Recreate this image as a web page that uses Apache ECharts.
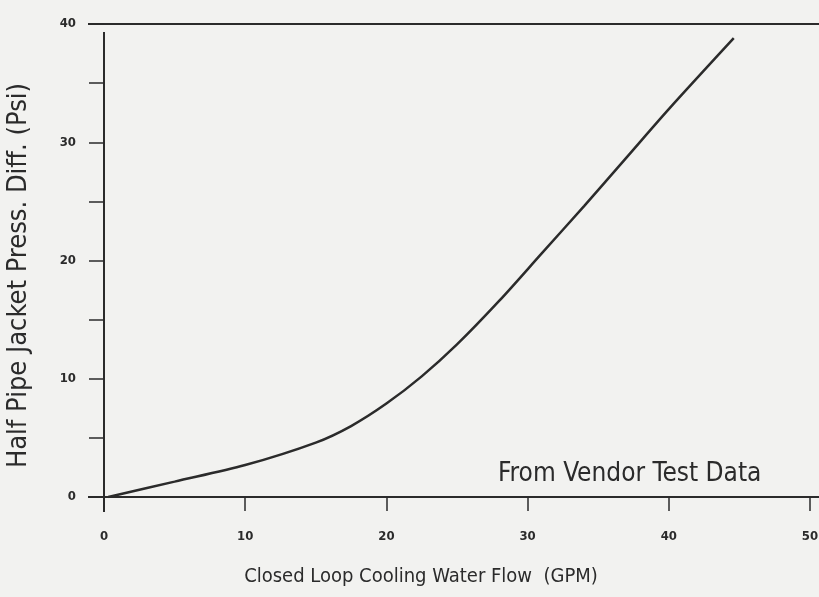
<!DOCTYPE html>
<html>
<head>
<meta charset="utf-8">
<script src="https://cdn.jsdelivr.net/npm/echarts@6/dist/echarts.min.js"></script>
<style>
	html, body { margin: 0; padding: 0; background: #f2f2f0; }
	#chart { width: 819px; height: 597px; }
</style>
</head>
<body>
<div id="chart"></div>
<script>
// values
var flowData = [0.3, 5, 10, 15, 17.5, 20, 22.5, 25, 28, 31, 34, 37, 40, 44.6];
var pressData = [0, 1.3, 2.7, 4.6, 6.0, 7.9, 10.2, 12.9, 16.6, 20.6, 24.6, 28.7, 32.8, 38.8];
var xTicks = [0, 10, 20, 30, 40, 50];
var yTicks = [0, 10, 20, 30, 40];
var noteText = 'From Vendor Test Data';

var ink = '#2b2b2b';
var font = '"DejaVu Sans Condensed", "DejaVu Sans", sans-serif';

var chart = echarts.init(document.getElementById('chart'));

var points = flowData.map(function (x, i) { return [x, pressData[i]]; });

var option = {
	backgroundColor: '#f2f2f0',
	animation: false,
	grid: { left: 104, right: 9, top: 24, bottom: 100, outerBoundsMode: 'none' },
	xAxis: {
		type: 'value',
		min: xTicks[0],
		max: xTicks[xTicks.length - 1],
		interval: 10,
		name: 'Closed Loop Cooling Water Flow  (GPM)',
		nameLocation: 'middle',
		nameGap: 70,
		nameTextStyle: { color: ink, fontSize: 20, fontFamily: font, padding: [0, 72, 0, 0] },
		axisLine: { show: false },
		axisTick: { show: true, inside: false, length: 14, lineStyle: { color: ink, width: 1.5 } },
		axisLabel: {
			color: ink, fontSize: 13, fontWeight: 'bold', fontFamily: font, margin: 33,
			formatter: function (v) { return xTicks.indexOf(v) >= 0 ? v : ''; }
		},
		splitLine: { show: false }
	},
	yAxis: {
		type: 'value',
		min: yTicks[0],
		max: yTicks[yTicks.length - 1],
		interval: 5,
		name: 'Half Pipe Jacket Press. Diff. (Psi)',
		nameLocation: 'middle',
		nameGap: 72,
		nameTextStyle: { color: ink, fontSize: 27, fontFamily: font, padding: [0, 30, 0, 0] },
		axisLine: { show: false },
		axisTick: { show: true, inside: false, length: 15, lineStyle: { color: ink, width: 1.5 } },
		axisLabel: {
			color: ink, fontSize: 13, fontWeight: 'bold', fontFamily: font, margin: 28,
			formatter: function (v) { return yTicks.indexOf(v) >= 0 ? v : ''; }
		},
		splitLine: { show: false }
	},
	series: [{
		type: 'line',
		data: points,
		smooth: 0.3,
		symbol: 'none',
		lineStyle: { color: ink, width: 2.5 }
	}]
};
chart.setOption(option);

// frame lines of the scanned plot run a little past the grid
var x0 = chart.convertToPixel({ xAxisIndex: 0 }, 0);
var yBot = chart.convertToPixel({ yAxisIndex: 0 }, 0);
var yTop = chart.convertToPixel({ yAxisIndex: 0 }, 40);
var lineStyle = { stroke: ink, lineWidth: 2 };
chart.setOption({
	graphic: [
		{ type: 'line', shape: { x1: x0 - 16, y1: yTop, x2: 819, y2: yTop }, style: lineStyle },
		{ type: 'line', shape: { x1: x0 - 16, y1: yBot, x2: 819, y2: yBot }, style: lineStyle },
		{ type: 'line', shape: { x1: x0, y1: yTop + 8, x2: x0, y2: yBot + 15 }, style: lineStyle },
		{
			type: 'text', left: 498, top: yBot - 36,
			style: { text: noteText, fill: ink, font: '26px ' + font }
		}
	]
});
</script>
</body>
</html>
